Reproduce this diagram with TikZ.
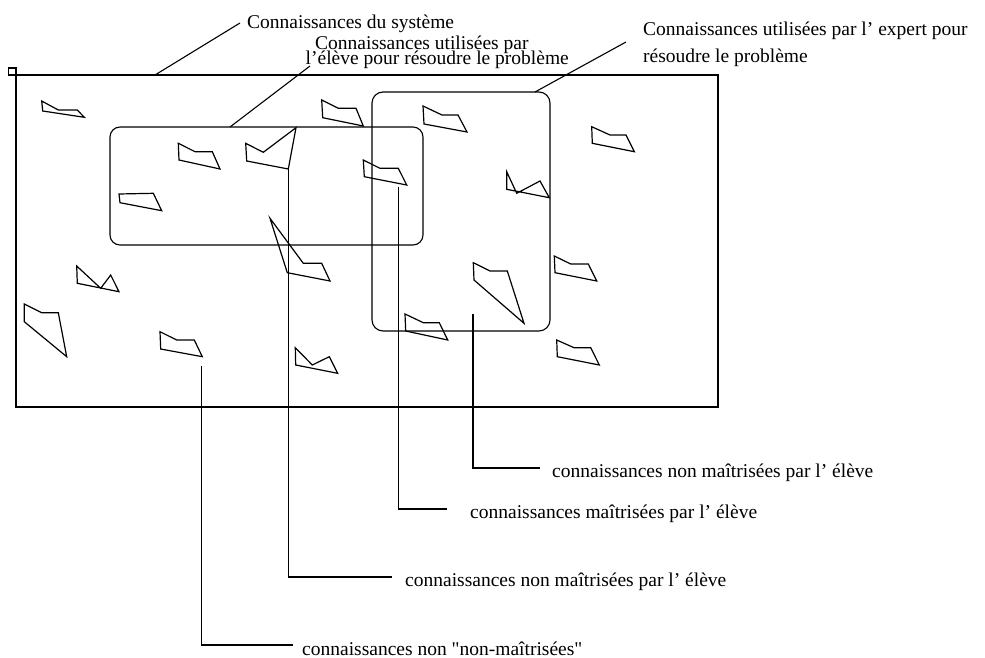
\documentclass[tikz,border=0pt]{standalone}
\usepackage{fontspec}
\setmainfont{Liberation Serif}[Ligatures=TeXOff]
\begin{document}
\begin{tikzpicture}[x=1pt,y=-1pt,line join=miter,
  ln/.style={line width=1.1pt,black},
  poly/.style={line width=1.2pt,black},
  txt/.style={inner sep=0pt,anchor=base west,font=\fontsize{19.5}{20}\selectfont},
  lbl/.style={inner sep=0pt,anchor=west,text height=19pt,text depth=0pt,font=\fontsize{19.5}{20}\selectfont}]
\useasboundingbox[fill=white] (0,0) rectangle (985,658);
% main frame
\draw[ln] (16,75) rectangle (718,407);
\draw[ln] (8.3,68) rectangle (16,75);
% knowledge sets
\draw[ln,rounded corners=10pt] (110,127) rectangle (423,245);
\draw[ln,rounded corners=11pt] (372,92) rectangle (550,331);
% polygons
\draw[poly] (41.7,101)--(58.3,110)--(77.3,110)--(84.3,117.3)--(42.7,111)--cycle;
\draw[poly] (321.7,100)--(338.3,108.3)--(356,108.3)--(363.3,126)--(322.7,117.7)--cycle;
\draw[poly] (423,106)--(442,115)--(458,115)--(467,132)--(424,124)--cycle;
\draw[poly] (178.3,143.3)--(195,151.7)--(212.3,151.7)--(220,169)--(179,160)--cycle;
\draw[poly] (245.7,143.3)--(263.3,152.3)--(296,127.7)--(288.3,169)--(246.7,161)--cycle;
\draw[poly] (363.3,160)--(380,168.3)--(398.3,168.3)--(406.7,185)--(364.3,176.7)--cycle;
\draw[poly] (119,194)--(153.3,193.3)--(161.7,210.7)--(120,202.7)--cycle;
\draw[poly] (506.7,171.7)--(516.7,193.3)--(540,181)--(549.3,197.7)--(506.7,189.3)--cycle;
\draw[poly] (591.7,126.7)--(610,135)--(626,135)--(634.3,151.7)--(592.3,143.3)--cycle;
\draw[poly] (270,218.3)--(303.3,263.3)--(321.7,263.3)--(330,281)--(287.3,272.7)--cycle;
\draw[poly] (76.7,266)--(100.7,288.3)--(110.7,275)--(119,291.7)--(77.3,283.3)--cycle;
\draw[poly] (24.3,304)--(41.7,312.7)--(58.3,312.7)--(66.7,356.7)--(24.3,321.7)--cycle;
\draw[poly] (160,331.7)--(176.7,340)--(194.3,340)--(202.3,356.7)--(160.7,349)--cycle;
\draw[poly] (295.3,347.7)--(312.3,365)--(329.3,356.7)--(337.7,373.3)--(295.7,365)--cycle;
\draw[poly] (473.3,262.7)--(490,271)--(507.3,271)--(524,323.3)--(474,280)--cycle;
\draw[poly] (554.3,256)--(570.7,264)--(588.3,264)--(596.7,281)--(555,272.7)--cycle;
\draw[poly] (405,314)--(423.3,322.7)--(439.3,322.7)--(447.7,340)--(405.7,331)--cycle;
\draw[poly] (556.7,340)--(574,347.7)--(590.7,347.7)--(599.3,365)--(557.3,356.7)--cycle;
% top labels
\node[txt] (sys) at (247,28.5) {Connaissances du système};
\node[txt] (elv1) at (315,49.5) {Connaissances utilisées par};
\node[txt] (elv2) at (305.5,65) {l’élève pour résoudre le problème};
\node[txt] (exp1) at (643,36) {Connaissances utilisées par l’ expert pour};
\node[txt] (exp2) at (643,63) {résoudre le problème};
\coordinate (sysA) at (155,75);   \coordinate (sysB) at (240,23);
\coordinate (elvA) at (230,127);  \coordinate (elvB) at (310,66);
\coordinate (expA) at (535,92);   \coordinate (expB) at (626,42);
\draw[ln] (sysA) -- (sysB);
\draw[ln] (elvA) -- (elvB);
\draw[ln] (expA) -- (expB);
% bottom labels
\node[lbl] (l1) at (302,646) {connaissances non "non-maîtrisées"};
\node[lbl] (l2) at (405,577) {connaissances non maîtrisées par l’ élève};
\node[lbl] (l3) at (470,509) {connaissances maîtrisées par l’ élève};
\node[lbl] (l4) at (552,468) {connaissances non maîtrisées par l’ élève};
\coordinate (s1) at (201.7,366);
\coordinate (s2) at (288.3,169);
\coordinate (s3) at (398.3,187);
\coordinate (s4) at (473,314);
\draw[ln] (s1) |- ([xshift=-9pt,yshift=1pt]l1.west);
\draw[ln] (s2) |- ([xshift=-13pt]l2.west);
\draw[ln] (s3) |- ([xshift=-23pt]l3.west);
\draw[ln] (s4) |- ([xshift=-12pt]l4.west);
\end{tikzpicture}
\end{document}
